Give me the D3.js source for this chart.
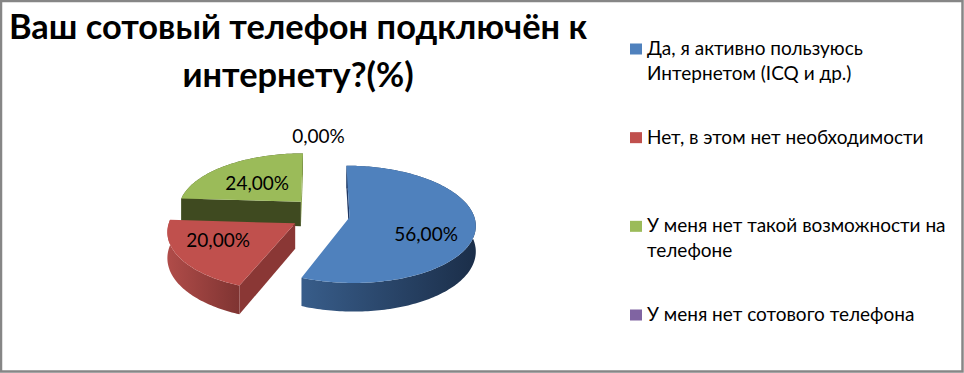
<!DOCTYPE html>
<html>
<head>
<meta charset="utf-8">
<script src="https://cdn.jsdelivr.net/npm/d3@7"></script>
<style>
  html, body { margin: 0; padding: 0; background: #fff; }
  svg { display: block; }
  text { font-family: Lato, "Noto Sans", sans-serif; fill: #000; }
</style>
</head>
<body>
<svg id="chart" width="964" height="373"></svg>
<script>
// data
const titleLines = ["Ваш сотовый телефон подключён к", "интернету?(%)"];
const categories = [
  ["Да, я активно пользуюсь", "Интернетом (ICQ и др.)"],
  ["Нет, в этом нет необходимости"],
  ["У меня нет такой возможности на", "телефоне"],
  ["У меня нет сотового телефона"]
];
const values = [56, 20, 24, 0];
const valueLabels = ["56,00%", "20,00%", "24,00%", "0,00%"];

// colours
const topColors = ["#4f81bd", "#c0504d", "#9bbb59", "#8064a2"];
const wallLeft = ["#385d8a", "#b04c49", "#4a5a28", "#5a4675"];
const wallRight = ["#1b2e49", "#7f3432", "#3f4a20", "#45355a"];
const startWall = ["#1f3864", "#8a3735", "#3f4a20", "#45355a"];
const endWall = ["#1f3864", "#8a3735", "#8ba350", "#45355a"];

const width = 964, height = 373;
const cx = 320.5, cy = 214;   // pie centre
const rx = 124, ry = 57;      // ellipse radii
const persp = 0.12;           // perspective
const explodeX = 0.237, explodeZ = 0.3;
const depth = 25;

// where the labels sit, in pie units from the slice centre
const labelR = [0.62, 0.62, 0.62, 1.0];
const labelNudge = [[-1, 11], [-7, -3], [4, 5], [-2, -13]];

const svg = d3.select("#chart");
const defs = svg.append("defs");

svg.append("rect")
  .attr("x", 1).attr("y", 1)
  .attr("width", width - 2.5).attr("height", height - 2.5)
  .attr("fill", "#fff")
  .attr("stroke", "#868686")
  .attr("stroke-width", 2.5);

const arcs = d3.pie().sort(null).startAngle(0).endAngle(2 * Math.PI)(values);

// pie plane -> screen
function project(angle, r, mid, h) {
  const X = r * Math.sin(angle) + explodeX * Math.sin(mid);
  const Z = r * Math.cos(angle) + explodeZ * Math.cos(mid);
  const s = 1 / (1 + persp * Z);
  return [cx + rx * X * s, cy - ry * Z * s + (h || 0) * s];
}

const line = d3.line();

const order = arcs.slice().sort((a, b) =>
  Math.cos((b.startAngle + b.endAngle) / 2) - Math.cos((a.startAngle + a.endAngle) / 2));

const pieG = svg.append("g");

order.forEach(a => {
  if (a.value === 0) return;
  const i = a.index;
  const mid = (a.startAngle + a.endAngle) / 2;
  const steps = d3.range(a.startAngle, a.endAngle, 0.02).concat(a.endAngle);
  const rim = steps.map(t => project(t, 1, mid));
  const rimLow = steps.map(t => project(t, 1, mid, depth)).reverse();
  const apex = project(0, 0, mid);
  const apexLow = project(0, 0, mid, depth);

  const xs = d3.extent(rim, d => d[0]);
  const grad = defs.append("linearGradient")
    .attr("id", "wall" + i)
    .attr("gradientUnits", "userSpaceOnUse")
    .attr("x1", xs[0]).attr("x2", xs[1])
    .attr("y1", 0).attr("y2", 0);
  grad.append("stop").attr("offset", 0).attr("stop-color", wallLeft[i]);
  grad.append("stop").attr("offset", 1).attr("stop-color", wallRight[i]);

  const g = pieG.append("g");
  // outer wall
  g.append("path")
    .attr("d", line(rim.concat(rimLow)) + "Z")
    .attr("fill", "url(#wall" + i + ")");
  // cut faces, only the ones turned towards the viewer
  if (Math.cos(a.startAngle - Math.PI / 2) < 0.01) {
    g.append("path")
      .attr("d", line([apex, rim[0], rimLow[rimLow.length - 1], apexLow]) + "Z")
      .attr("fill", startWall[i]);
  }
  if (Math.cos(a.endAngle + Math.PI / 2) < 0.01) {
    g.append("path")
      .attr("d", line([apex, rim[rim.length - 1], rimLow[0], apexLow]) + "Z")
      .attr("fill", endWall[i]);
  }
  // top
  g.append("path")
    .attr("d", line([apex].concat(rim)) + "Z")
    .attr("fill", topColors[i]);
});

// value labels
svg.append("g").selectAll("text")
  .data(arcs)
  .join("text")
  .attr("text-anchor", "middle")
  .attr("font-size", 19)
  .attr("x", a => project((a.startAngle + a.endAngle) / 2, labelR[a.index], (a.startAngle + a.endAngle) / 2)[0] + labelNudge[a.index][0])
  .attr("y", a => project((a.startAngle + a.endAngle) / 2, labelR[a.index], (a.startAngle + a.endAngle) / 2)[1] + labelNudge[a.index][1] + 6)
  .text((a, i) => valueLabels[i]);

// title
svg.append("g").selectAll("text")
  .data(titleLines)
  .join("text")
  .attr("x", 298)
  .attr("y", (d, i) => 39 + i * 48)
  .attr("text-anchor", "middle")
  .attr("font-size", 34.4)
  .attr("font-weight", 700)
  .text(d => d);

// legend
const legendY = d3.scalePoint()
  .domain(d3.range(categories.length))
  .range([49, 315]);

const legend = svg.append("g").selectAll("g")
  .data(categories)
  .join("g")
  .attr("transform", (d, i) => `translate(630,${legendY(i)})`);

legend.append("rect")
  .attr("y", -5.5)
  .attr("width", 12).attr("height", 11)
  .attr("fill", (d, i) => topColors[i]);

legend.selectAll("text")
  .data(d => d)
  .join("text")
  .attr("x", 17)
  .attr("y", (d, i) => 6 + i * 25)
  .attr("font-size", 19)
  .text(d => d);
</script>
</body>
</html>
